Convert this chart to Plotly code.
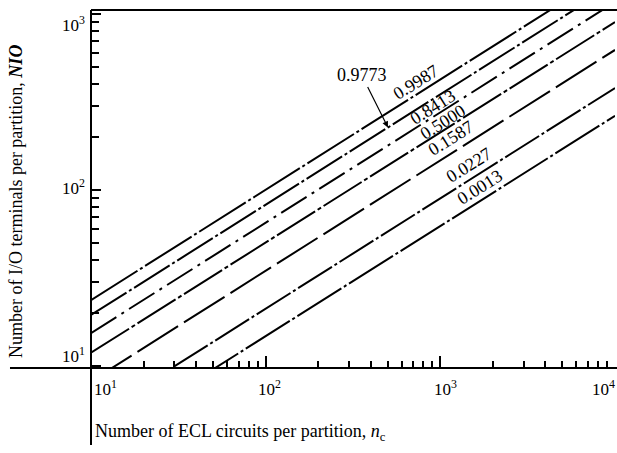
import math
import plotly.graph_objects as go

# ---------------- data ----------------
n_ends = [10, 10000]                      # ECL circuits per partition at the two ends of each line
levels = ["0.9987", "0.9773", "0.8413", "0.5000", "0.1587", "0.0227", "0.0013"]
nio_at_n10 = [23.7, 19.5, 15.4, 11.9, 8.2, 5.0, 3.5]          # NIO at n = 10
nio_at_n10000 = [1800, 1480, 1170, 900, 625, 380, 264]         # NIO at n = 10^4

x_tick_vals = [10, 100, 1000, 10000]
y_tick_vals = [10, 100, 1000]
tick_text = {10: "10<sup>1</sup>", 100: "10<sup>2</sup>", 1000: "10<sup>3</sup>", 10000: "10<sup>4</sup>"}
x_minor_vals = [m * d for d in (10, 100, 1000) for m in range(2, 10)]
y_minor_vals = [m * d for d in (10, 100) for m in range(2, 10)]

x_title = "Number of ECL circuits per partition, <i>n</i><sub>c</sub>"
y_title = "Number of I/O terminals per partition, <b><i>NIO</i></b>"

# ---------------- styles ----------------
FONT = "Liberation Serif, Times New Roman, serif"
dashes = [
    "55px,3px,3px,3px",
    "42px,3px,3px,3px",
    "30px,6px,3px,6px",
    "45px,3px,4px,3px",
    "48px,7px",
    "40px,3px,3px,3px",
    "52px,3px,3px,3px",
]
# label placement (log10 coordinates of label centres)
label_pos = {
    "0.9987": (2.861, 2.614),
    "0.8413": (2.958, 2.472),
    "0.5000": (3.015, 2.387),
    "0.1587": (3.061, 2.296),
    "0.0227": (3.164, 2.142),
    "0.0013": (3.227, 2.017),
}

fig = go.Figure()
for lev, y0, y1, dsh in zip(levels, nio_at_n10, nio_at_n10000, dashes):
    fig.add_trace(go.Scatter(
        x=n_ends, y=[y0, y1], mode="lines", name=lev,
        line=dict(color="black", width=2, dash=dsh),
        hoverinfo="skip", showlegend=False,
    ))

annotations = []
for lev, (lx, ly) in label_pos.items():
    annotations.append(dict(
        x=lx, y=ly, xref="x", yref="y", text=lev, showarrow=False,
        textangle=-32, font=dict(family=FONT, size=18, color="black"),
        xanchor="center", yanchor="middle",
    ))
# 0.9773 label with arrow to its line
annotations.append(dict(
    x=2.700, y=2.356, xref="x", yref="y", text="0.9773",
    showarrow=True, ax=-26, ay=-52, arrowhead=2, arrowsize=1, arrowwidth=1.2,
    arrowcolor="black", font=dict(family=FONT, size=18, color="black"),
))

# tick labels
x_shift = {10: 14, 100: 4, 1000: 5, 10000: 2}
for v in x_tick_vals:
    annotations.append(dict(
        x=math.log10(v), y=0, xref="x", yref="paper", text=tick_text[v],
        showarrow=False, font=dict(family=FONT, size=17, color="black"),
        xanchor="right" if v == 10000 else "center", yanchor="middle",
        xshift=x_shift[v], yshift=-20,
    ))
y_shift = {10: 11, 100: 3, 1000: -10}
for v in y_tick_vals:
    annotations.append(dict(
        x=0, y=math.log10(v), xref="paper", yref="y", text=tick_text[v],
        showarrow=False, font=dict(family=FONT, size=17, color="black"),
        xanchor="right", yanchor="middle", xshift=-4, yshift=y_shift[v],
    ))

# axis titles
annotations.append(dict(
    x=-0.143, y=0.4637, xref="paper", yref="paper", text=y_title, textangle=-90,
    showarrow=False, font=dict(family=FONT, size=18, color="black"),
    xanchor="center", yanchor="middle",
))
annotations.append(dict(
    x=0.0038, y=-0.179, xref="paper", yref="paper", text=x_title,
    showarrow=False, font=dict(family=FONT, size=18, color="black"),
    xanchor="left", yanchor="middle",
))

shapes = [
    # y axis (extends below the x axis)
    dict(type="line", xref="paper", yref="paper", x0=0, x1=0, y0=1.0, y1=-0.215,
         line=dict(color="black", width=2)),
    # x axis (extends left of the y axis)
    dict(type="line", xref="paper", yref="paper", x0=-0.1546, x1=1.004, y0=0, y1=0,
         line=dict(color="black", width=2)),
    # top frame
    dict(type="line", xref="paper", yref="paper", x0=0, x1=1.004, y0=1, y1=1,
         line=dict(color="black", width=2)),
]

fig.update_layout(
    width=617, height=453,
    margin=dict(l=91, r=2, t=10, b=85),
    paper_bgcolor="white", plot_bgcolor="white",
    annotations=annotations, shapes=shapes,
    xaxis=dict(
        type="log", range=[1, 4], showgrid=False, zeroline=False, showline=False,
        tickmode="array", tickvals=x_tick_vals, showticklabels=False,
        ticks="inside", ticklen=12, tickwidth=1.5, tickcolor="black",
        minor=dict(tickmode="array", tickvals=x_minor_vals, ticks="inside",
                   ticklen=7, tickwidth=1.5, tickcolor="black", showgrid=False),
    ),
    yaxis=dict(
        type="log", range=[0.989, 3.023], showgrid=False, zeroline=False, showline=False,
        tickmode="array", tickvals=y_tick_vals, showticklabels=False,
        ticks="inside", ticklen=10, tickwidth=1.5, tickcolor="black",
        minor=dict(tickmode="array", tickvals=y_minor_vals, ticks="inside",
                   ticklen=8, tickwidth=1.5, tickcolor="black", showgrid=False),
    ),
)

fig.write_html("out.html")
